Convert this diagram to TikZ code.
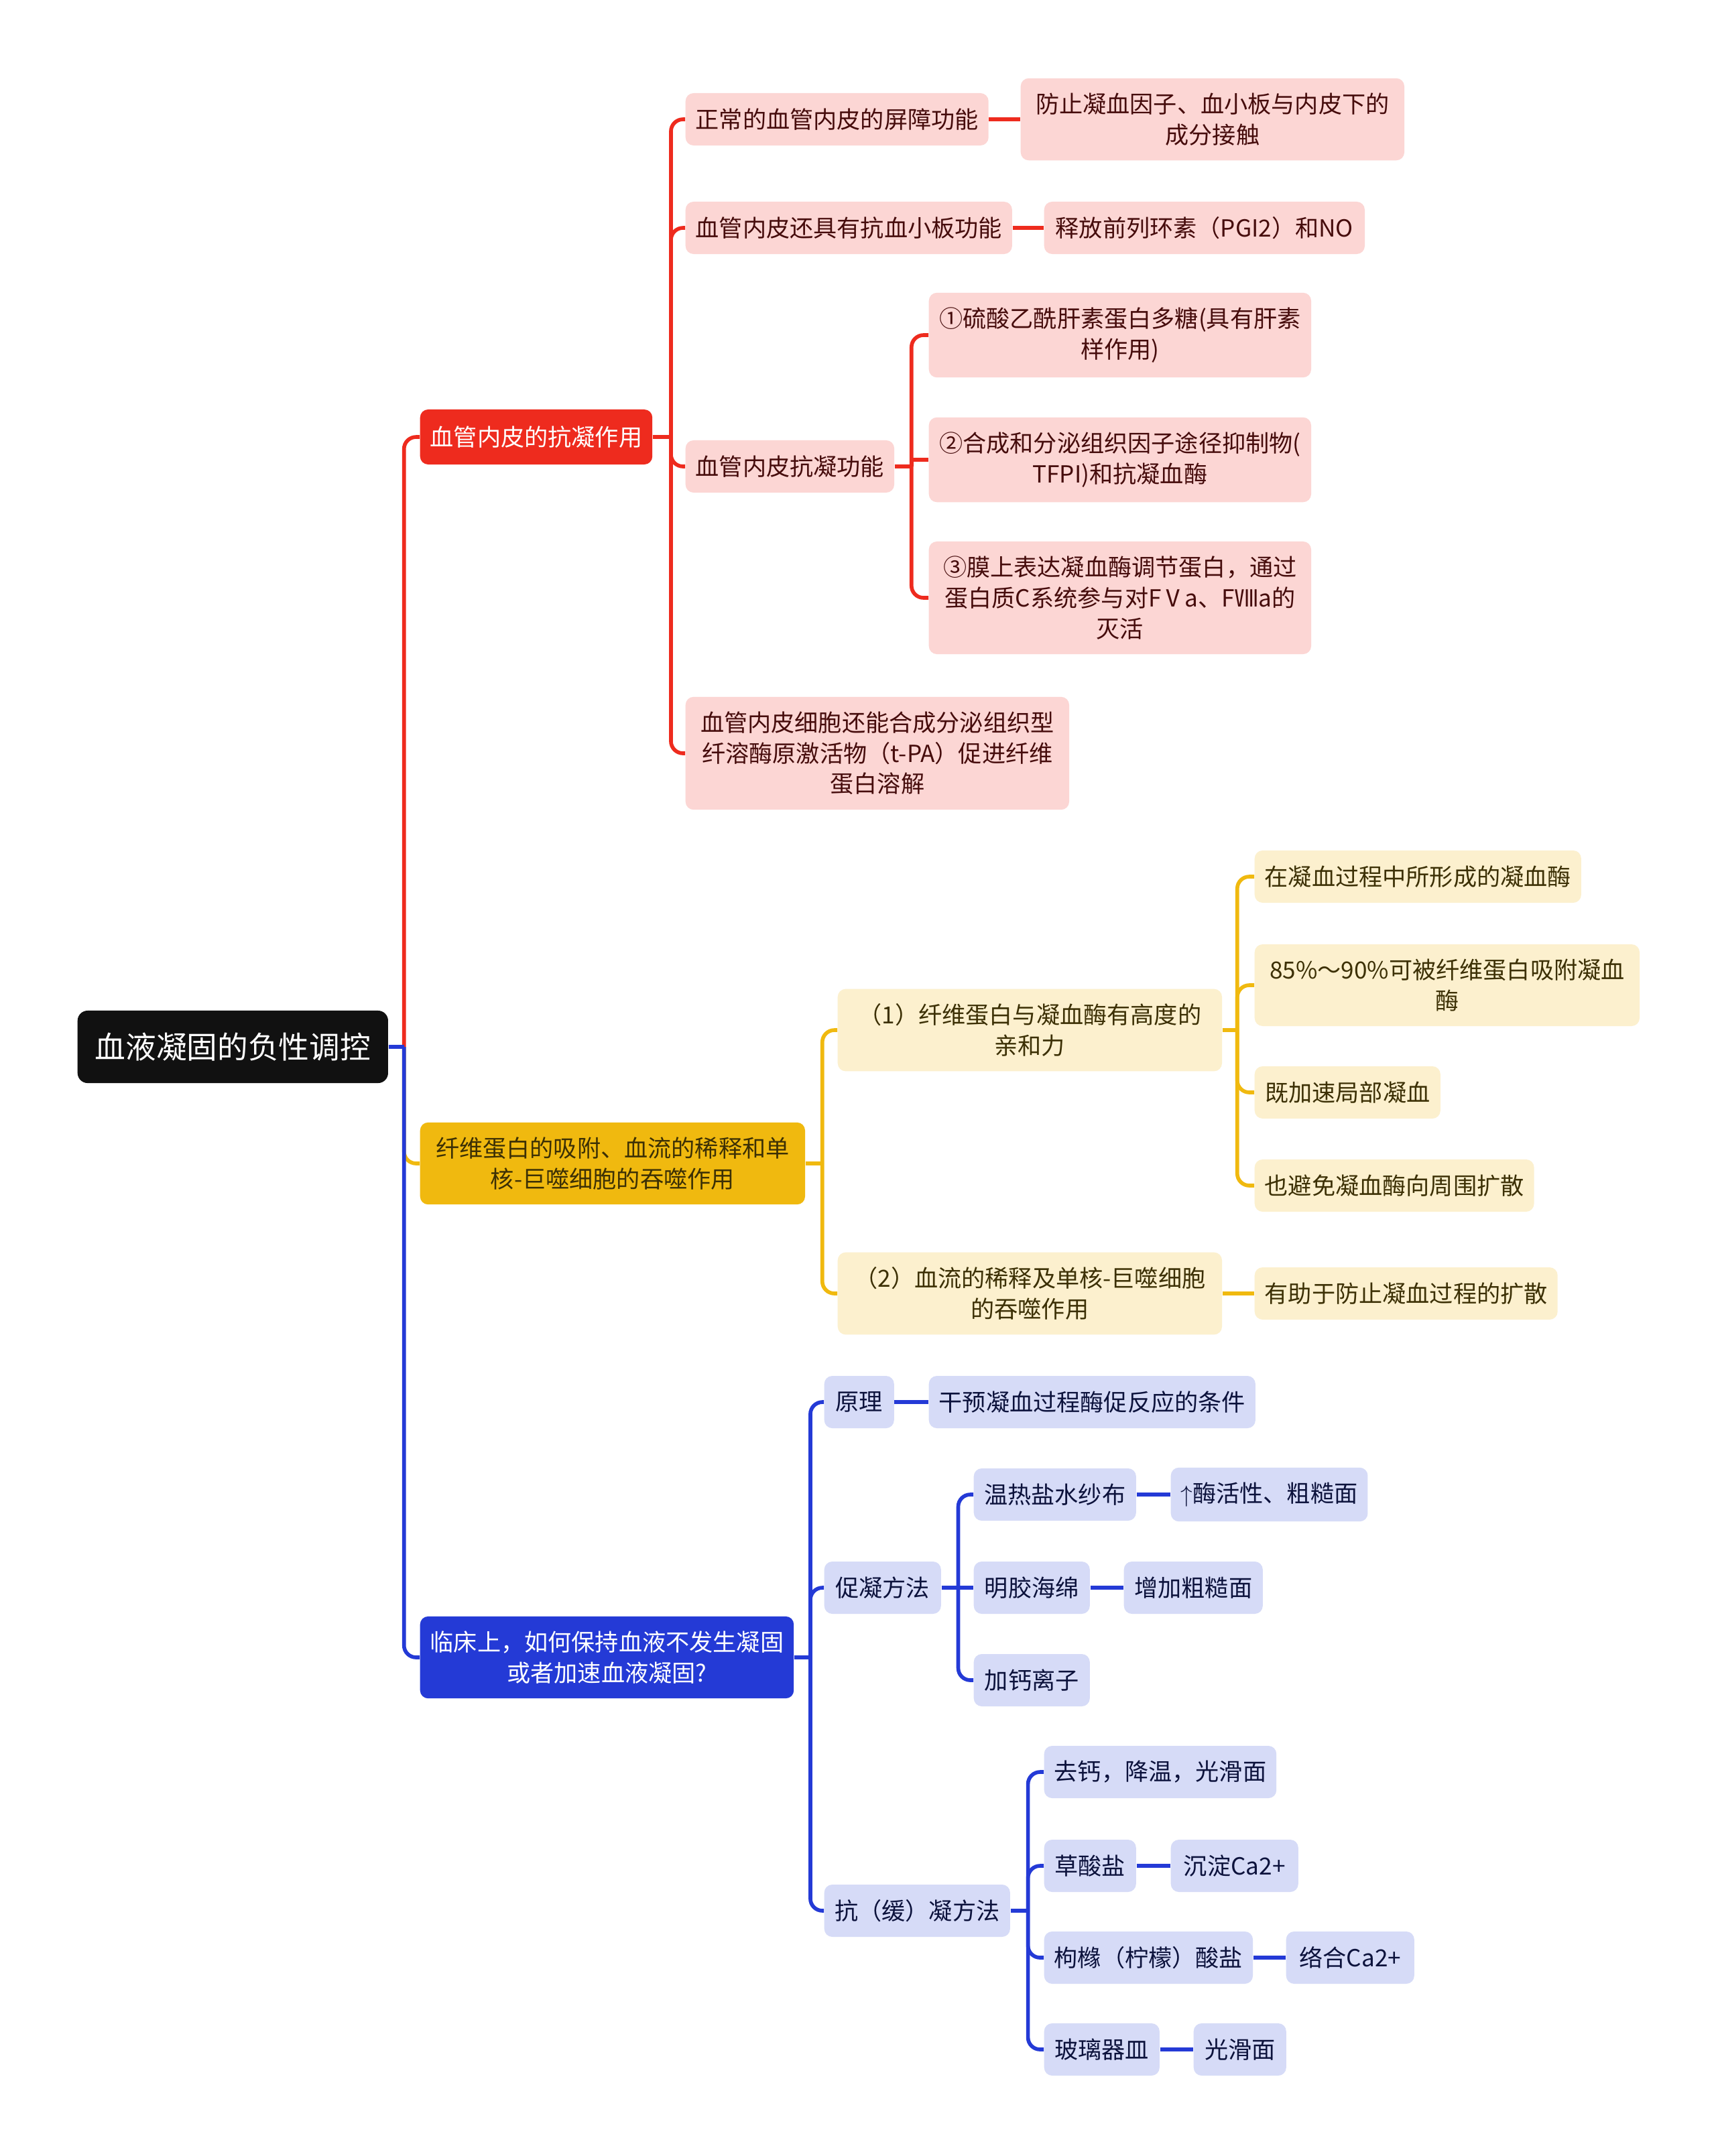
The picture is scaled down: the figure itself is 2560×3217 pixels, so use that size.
\documentclass[tikz,border=0pt]{standalone}
\usepackage{fontspec}
\setmainfont{Noto Sans CJK SC}
\usepackage{tikz}
\definecolor{rootblack}{RGB}{17,17,17}
\definecolor{redmain}{RGB}{238,43,30}
\definecolor{redlight}{RGB}{252,214,212}
\definecolor{redtext}{RGB}{70,12,12}
\definecolor{yelmain}{RGB}{240,185,15}
\definecolor{yellight}{RGB}{252,240,206}
\definecolor{yeltext}{RGB}{60,48,5}
\definecolor{blumain}{RGB}{36,58,214}
\definecolor{blulight}{RGB}{214,219,247}
\definecolor{blutext}{RGB}{12,18,60}

\begin{document}
\begin{tikzpicture}[
  x=0.01cm, y=-0.01cm,
  mm/.style={anchor=west, rounded corners=0.12cm, align=center,
             font=\fontsize{10}{13}\selectfont, inner xsep=0.15cm,
             inner ysep=0.22cm, minimum height=0.78cm},
  rootbox/.style={mm, fill=rootblack, text=white, rounded corners=0.15cm,
                  font=\fontsize{13}{16}\selectfont, minimum height=1.08cm},
  redtop/.style={mm, fill=redmain, text=white, minimum height=0.82cm},
  redbox/.style={mm, fill=redlight, text=redtext},
  yeltop/.style={mm, fill=yelmain, text=yeltext},
  yelbox/.style={mm, fill=yellight, text=yeltext},
  blutop/.style={mm, fill=blumain, text=white},
  blubox/.style={mm, fill=blulight, text=blutext},
  redln/.style={draw=redmain, line width=1.6pt, rounded corners=0.18cm},
  yelln/.style={draw=yelmain, line width=1.6pt, rounded corners=0.18cm},
  bluln/.style={draw=blumain, line width=1.6pt, rounded corners=0.18cm}
]
\useasboundingbox (0,0) rectangle (2560,3217);
\fill[white] (0,0) rectangle (2560,3217);

% root and main branches
\node[rootbox, minimum width=4.63cm] (root) at (115,1562) {血液凝固的负性调控};
\node[redtop, minimum width=3.46cm] (r1) at (626,652) {血管内皮的抗凝作用};
\node[yeltop, minimum width=5.74cm] (y1) at (626,1736) {纤维蛋白的吸附、血流的稀释和单\\核-巨噬细胞的吞噬作用};
\node[blutop, minimum width=5.56cm] (b1) at (626,2473) {临床上，如何保持血液不发生凝固\\或者加速血液凝固?};

% red branch
\node[redbox, minimum width=4.51cm] (r11) at (1022,178) {正常的血管内皮的屏障功能};
\node[redbox, minimum width=5.72cm] (r11a) at (1522,178) {防止凝血因子、血小板与内皮下的\\成分接触};
\node[redbox, minimum width=4.84cm] (r12) at (1022,340) {血管内皮还具有抗血小板功能};
\node[redbox, minimum width=4.78cm] (r12a) at (1557,340) {释放前列环素（PGI2）和NO};
\node[redbox, minimum width=3.11cm] (r13) at (1022,696) {血管内皮抗凝功能};
\node[redbox, minimum width=5.70cm] (r131) at (1385,500) {①硫酸乙酰肝素蛋白多糖(具有肝素\\样作用)};
\node[redbox, minimum width=5.70cm] (r132) at (1385,686) {②合成和分泌组织因子途径抑制物(\\TFPI)和抗凝血酶};
\node[redbox, minimum width=5.70cm] (r133) at (1385,892) {③膜上表达凝血酶调节蛋白，通过\\蛋白质C系统参与对FⅤa、FⅧa的\\灭活};
\node[redbox, minimum width=5.72cm] (r14) at (1022,1124) {血管内皮细胞还能合成分泌组织型\\纤溶酶原激活物（t-PA）促进纤维\\蛋白溶解};

% yellow branch
\node[yelbox, minimum width=5.73cm] (y11) at (1249,1537) {（1）纤维蛋白与凝血酶有高度的\\亲和力};
\node[yelbox, minimum width=4.84cm] (y111) at (1871,1308) {在凝血过程中所形成的凝血酶};
\node[yelbox, minimum width=5.74cm] (y112) at (1871,1470) {85\%～90\%可被纤维蛋白吸附凝血\\酶};
\node[yelbox, minimum width=2.77cm] (y113) at (1871,1630) {既加速局部凝血};
\node[yelbox, minimum width=4.16cm] (y114) at (1871,1769) {也避免凝血酶向周围扩散};
\node[yelbox, minimum width=5.73cm] (y12) at (1249,1930) {（2）血流的稀释及单核-巨噬细胞\\的吞噬作用};
\node[yelbox, minimum width=4.51cm] (y121) at (1871,1930) {有助于防止凝血过程的扩散};

% blue branch
\node[blubox, minimum width=1.04cm] (b11) at (1229,2092) {原理};
\node[blubox, minimum width=4.82cm] (b11a) at (1385,2092) {干预凝血过程酶促反应的条件};
\node[blubox, minimum width=1.74cm] (b12) at (1229,2369) {促凝方法};
\node[blubox, minimum width=2.42cm] (b121) at (1452,2230) {温热盐水纱布};
\node[blubox, minimum width=2.91cm] (b121a) at (1746,2230) {$\uparrow$酶活性、粗糙面};
\node[blubox, minimum width=1.73cm] (b122) at (1452,2369) {明胶海绵};
\node[blubox, minimum width=2.07cm] (b122a) at (1676,2369) {增加粗糙面};
\node[blubox, minimum width=1.73cm] (b123) at (1452,2507) {加钙离子};
\node[blubox, minimum width=2.77cm] (b13) at (1229,2851) {抗（缓）凝方法};
\node[blubox, minimum width=3.45cm] (b131) at (1557,2644) {去钙，降温，光滑面};
\node[blubox, minimum width=1.37cm] (b132) at (1557,2784) {草酸盐};
\node[blubox, minimum width=1.90cm] (b132a) at (1746,2784) {沉淀Ca2+};
\node[blubox, minimum width=3.10cm] (b133) at (1557,2921) {枸橼（柠檬）酸盐};
\node[blubox, minimum width=1.91cm] (b133a) at (1918,2921) {络合Ca2+};
\node[blubox, minimum width=1.72cm] (b134) at (1557,3058) {玻璃器皿};
\node[blubox, minimum width=1.38cm] (b134a) at (1780,3058) {光滑面};

% junction points
\coordinate (rootj) at ([xshift=0.23cm]root.east);
\coordinate (r1j) at ([xshift=0.27cm]r1.east);
\coordinate (r13j) at ([xshift=0.25cm]r13.east);
\coordinate (y1j) at ([xshift=0.25cm]y1.east);
\coordinate (y11j) at ([xshift=0.22cm]y11.east);
\coordinate (b1j) at ([xshift=0.24cm]b1.east);
\coordinate (b12j) at ([xshift=0.25cm]b12.east);
\coordinate (b13j) at ([xshift=0.26cm]b13.east);

% connectors
\draw[yelln] (rootj) |- (y1.west);
\draw[bluln] (rootj) |- (b1.west);
\draw[redln] (rootj) |- (r1.west);
\draw[bluln] (root.east) -- (rootj);

\draw[redln] (r1.east) -- (r1j);
\foreach \c in {r11,r12,r13,r14} \draw[redln] (r1j) |- (\c.west);
\draw[redln] (r11.east) -- (r11a.west);
\draw[redln] (r12.east) -- (r12a.west);
\draw[redln] (r13.east) -- (r13j);
\draw[redln] (r13j) |- (r131.west);
\draw[redln, sharp corners] (r13j) |- (r132.west);
\draw[redln] (r13j) |- (r133.west);

\draw[yelln] (y1.east) -- (y1j);
\foreach \c in {y11,y12} \draw[yelln] (y1j) |- (\c.west);
\draw[yelln] (y11.east) -- (y11j);
\foreach \c in {y111,y112,y113,y114} \draw[yelln] (y11j) |- (\c.west);
\draw[yelln] (y12.east) -- (y121.west);

\draw[bluln] (b1.east) -- (b1j);
\foreach \c in {b11,b12,b13} \draw[bluln] (b1j) |- (\c.west);
\draw[bluln] (b11.east) -- (b11a.west);
\draw[bluln] (b12.east) -- (b122.west);
\draw[bluln] (b12j) |- (b121.west);
\draw[bluln] (b12j) |- (b123.west);
\draw[bluln] (b121.east) -- (b121a.west);
\draw[bluln] (b122.east) -- (b122a.west);
\draw[bluln] (b13.east) -- (b13j);
\foreach \c in {b131,b132,b133,b134} \draw[bluln] (b13j) |- (\c.west);
\draw[bluln] (b132.east) -- (b132a.west);
\draw[bluln] (b133.east) -- (b133a.west);
\draw[bluln] (b134.east) -- (b134a.west);
\end{tikzpicture}
\end{document}
